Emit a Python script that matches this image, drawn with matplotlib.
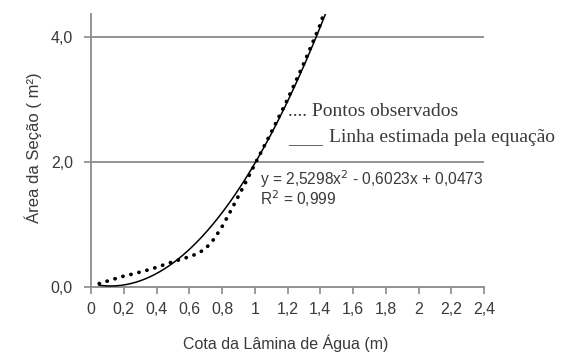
import numpy as np
import matplotlib.pyplot as plt

cota_obs = [0.05, 0.10, 0.15, 0.20, 0.25, 0.30, 0.35, 0.40, 0.45, 0.50, 0.55, 0.60, 0.65,
            0.70, 0.75, 0.80, 0.85, 0.90, 0.95, 1.00, 1.10, 1.20, 1.30, 1.40, 1.42]
area_obs = [0.05, 0.09, 0.13, 0.17, 0.20, 0.235, 0.27, 0.31, 0.355, 0.40, 0.44, 0.48, 0.53,
            0.61, 0.76, 0.96, 1.20, 1.45, 1.70, 1.96, 2.47, 3.00, 3.58, 4.20, 4.37]

# Fitted quadratic
coef = [2.5298, -0.6023, 0.0473]
x_fit = np.linspace(0.05, 1.45, 200)
y_fit = coef[0] * x_fit**2 + coef[1] * x_fit + coef[2]

x_ticks = [0, 0.2, 0.4, 0.6, 0.8, 1, 1.2, 1.4, 1.6, 1.8, 2, 2.2, 2.4]
x_labels = ["0", "0,2", "0,4", "0,6", "0,8", "1", "1,2", "1,4", "1,6", "1,8", "2", "2,2", "2,4"]
y_ticks = [0, 2, 4]
y_labels = ["0,0", "2,0", "4,0"]

W, H = 561, 356
fig = plt.figure(figsize=(W / 100, H / 100), dpi=100)
ax = fig.add_axes([91 / W, 1 - 286.7 / H, (484 - 91) / W, (286.7 - 14) / H])

gray = "#8a8a8a"
txt = "#3a3a3a"
sans = "Liberation Sans"

for yv in [2, 4]:
    ax.plot([0, 2.4], [yv, yv], color=gray, lw=1.3, zorder=1)

ax.plot(x_fit, y_fit, color="black", lw=1.1, zorder=3)
ax.plot(cota_obs, area_obs, color="black", lw=2.7, linestyle=(0, (0.05, 2.15)),
        dash_capstyle="round", zorder=4)

ax.set_xlim(0, 2.4)
ax.set_ylim(0, 4.37)
for s in ["top", "right"]:
    ax.spines[s].set_visible(False)
for s in ["left", "bottom"]:
    ax.spines[s].set_color(gray)
    ax.spines[s].set_linewidth(1.3)

ax.set_xticks(x_ticks)
ax.set_xticklabels(x_labels, family=sans)
ax.set_yticks(y_ticks)
ax.set_yticklabels(y_labels, family=sans)
ax.tick_params(axis="both", colors=gray, length=5, width=1.2, labelsize=11.5,
               labelcolor=txt, pad=6)
ax.tick_params(axis="y", pad=8)

fig.text(286 / W, 1 - 343 / H, "Cota da Lâmina de Água (m)", ha="center", va="center",
         fontsize=11.5, color=txt, family=sans)
fig.text(33 / W, 1 - 148 / H, "Área da Seção ( m²)", ha="center", va="center",
         rotation=90, fontsize=12, color=txt, family=sans)

serif = "Liberation Serif"
fig.text(288 / W, 1 - 112 / H, ".... Pontos observados", ha="left", va="center",
         fontsize=14, color=txt, family=serif)
fig.text(288 / W, 1 - 141 / H, "_____", ha="left", va="center",
         fontsize=10, color=txt, family=serif)
fig.text(329 / W, 1 - 138 / H, "Linha estimada pela equação", ha="left", va="center",
         fontsize=14, color=txt, family=serif)

fig.text(260 / W, 1 - 179 / H, "y = 2,5298x$^2$ - 0,6023x + 0,0473", ha="left", va="center",
         fontsize=11.2, color=txt, family=sans)
fig.text(260 / W, 1 - 199 / H, "R$^2$ = 0,999", ha="left", va="center",
         fontsize=11.2, color=txt, family=sans)

fig.savefig("out.png", dpi=100)
